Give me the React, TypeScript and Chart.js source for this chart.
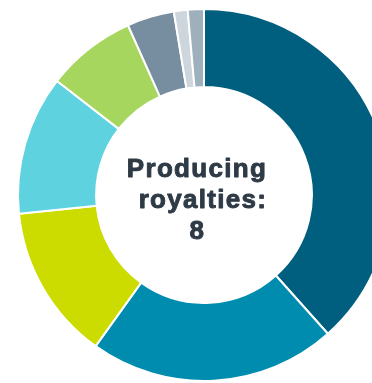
import React, { useEffect, useRef } from "react";
import { Chart, registerables } from "chart.js";

Chart.register(...registerables);

const categories = ["A", "B", "C", "D", "E", "F", "G", "H"];
const values = [38.4, 21.5, 13.5, 12.1, 7.8, 4.1, 1.2, 1.4];
const colors = ["#005e7e", "#008caf", "#cddc00", "#5fd2e0", "#a6d65e", "#778ea0", "#ccd6dc", "#9fb0bd"];
const centerLines = ["Producing", "royalties:", "8"];

const centerText = {
  id: "centerText",
  afterDraw(chart: any) {
    const arc = chart.getDatasetMeta(0).data[0];
    if (!arc) return;
    const cx = arc.x;
    const cy = arc.y;
    const ctx = chart.ctx;
    ctx.save();
    ctx.fillStyle = "#2e3a45";
    ctx.strokeStyle = "#2e3a45";
    ctx.lineWidth = 0.9;
    ctx.lineJoin = "round";
    ctx.font = "bold 26px 'Liberation Sans', Arial, sans-serif";
    (ctx as any).letterSpacing = "1.3px";
    ctx.textAlign = "center";
    ctx.textBaseline = "alphabetic";
    const dx = [-7, -1, -6.5];
    const dy = [-18, 12.5, 44];
    centerLines.forEach((t, i) => {
      ctx.fillText(t, cx + dx[i], cy + dy[i]);
      ctx.strokeText(t, cx + dx[i], cy + dy[i]);
    });
    ctx.restore();
  },
};

export default function App() {
  const ref = useRef<HTMLCanvasElement>(null);
  useEffect(() => {
    if (!ref.current) return;
    const chart = new Chart(ref.current, {
      type: "doughnut",
      data: {
        labels: categories,
        datasets: [
          {
            data: values,
            backgroundColor: colors,
            borderColor: "#ffffff",
            borderWidth: 2,
          },
        ],
      },
      options: {
        responsive: false,
        animation: false,
        radius: 186,
        cutout: "58%",
        layout: { padding: { left: 36, right: 0, top: 7, bottom: 0 } },
        plugins: {
          legend: { display: false },
          tooltip: { enabled: false },
        },
        events: [],
      },
      plugins: [centerText],
    });
    return () => chart.destroy();
  }, []);
  return (
    <canvas
      ref={ref}
      width={372}
      height={383}
      style={{ position: "absolute", left: 0, top: 0, display: "block" }}
    />
  );
}
